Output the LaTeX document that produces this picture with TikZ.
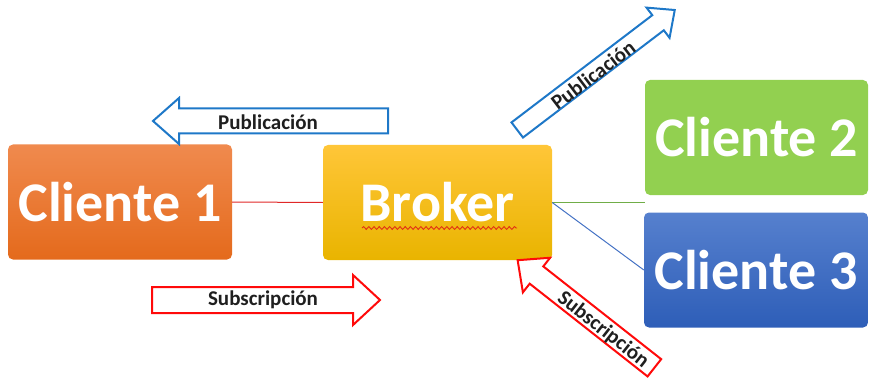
\documentclass[tikz,border=0pt]{standalone}
\usepackage{fontspec}
\setmainfont{Carlito}
\usetikzlibrary{decorations.pathmorphing}

\definecolor{orangeTop}{RGB}{240,138,78}
\definecolor{orangeBot}{RGB}{228,106,28}
\definecolor{goldTop}{RGB}{255,198,56}
\definecolor{goldBot}{RGB}{233,180,0}
\definecolor{greenBox}{RGB}{146,208,80}
\definecolor{blueTop}{RGB}{86,128,206}
\definecolor{blueBot}{RGB}{46,94,184}
\definecolor{pubBlue}{RGB}{30,120,200}
\definecolor{subRed}{RGB}{255,10,10}
\definecolor{linkRed}{RGB}{224,40,40}
\definecolor{linkGreen}{RGB}{112,173,71}
\definecolor{linkBlue}{RGB}{68,114,196}
\definecolor{spellRed}{RGB}{225,50,20}

\tikzset{
  box/.style={rounded corners=5pt, minimum width=#1, minimum height=115pt,
    inner sep=0pt, text=white, font=\fontsize{56}{60}\selectfont\bfseries},
  arrowline/.style={line width=2pt, fill=white, line join=miter},
  arrowtext/.style={font=\fontsize{21}{23}\selectfont\bfseries, inner sep=0pt, text=black!88},
  link/.style={line width=1pt}
}

% block arrow: centre, direction angle, length, body width, head width, head length, colour
\newcommand\blockarrow[7]{%
  \begin{scope}[shift={(#1)}, rotate=#2]
    \draw[arrowline, draw=#7]
      ({-#3/2},{-#4/2}) -- ({#3/2-#6},{-#4/2}) -- ({#3/2-#6},{-#5/2})
      -- ({#3/2},0) -- ({#3/2-#6},{#5/2}) -- ({#3/2-#6},{#4/2})
      -- ({-#3/2},{#4/2}) -- cycle;
  \end{scope}}

\begin{document}
\begin{tikzpicture}[x=1pt, y=1pt]
  \useasboundingbox (0,0) rectangle (869,378);

  % client and broker boxes
  \node[box=224pt, top color=orangeTop, bottom color=orangeBot] (c1) at (120,176) {Cliente 1};
  \node[box=229pt, top color=goldTop, bottom color=goldBot] (broker) at (437.5,175.5) {Broker};
  \node[box=223pt, fill=greenBox] (c2) at (756.5,240.5) {Cliente 2};
  \node[box=224pt, top color=blueTop, bottom color=blueBot] (c3) at (756,108) {Cliente 3};

  % wavy underline beneath the broker label
  \coordinate (wavyL) at (362,150);
  \coordinate (wavyR) at (517,150);
  \draw[spellRed, line width=0.9pt, decorate,
        decoration={snake, amplitude=1.4pt, segment length=5.2pt}] (wavyL) -- (wavyR);

  % links
  \coordinate (greenEnd) at (645,173);
  \draw[link, linkRed] (c1.east) -- (broker.west);
  \draw[link, linkGreen] (broker.east) -- (broker.east -| greenEnd);
  \draw[link, linkBlue] (broker.east) -- (c3.west);

  % publication / subscription arrows
  \blockarrow{270.5,257}{180}{235}{25}{46}{26}{pubBlue}
  \node[arrowtext] (pub1) at (268,256) {Publicación};

  \blockarrow{266,78}{0}{228}{26}{50}{27}{subRed}
  \node[arrowtext] (sub1) at (263,78) {Subscripción};

  \blockarrow{596,308}{37.3}{198}{19}{38}{21}{pubBlue}
  \node[arrowtext, rotate=37.3] (pub2) at (593,303) {Publicación};

  \blockarrow{586,64}{141.8}{174}{22}{44}{24}{subRed}
  \node[arrowtext, rotate=-38.2] (sub2) at (603,48) {Subscripción};
\end{tikzpicture}
\end{document}
